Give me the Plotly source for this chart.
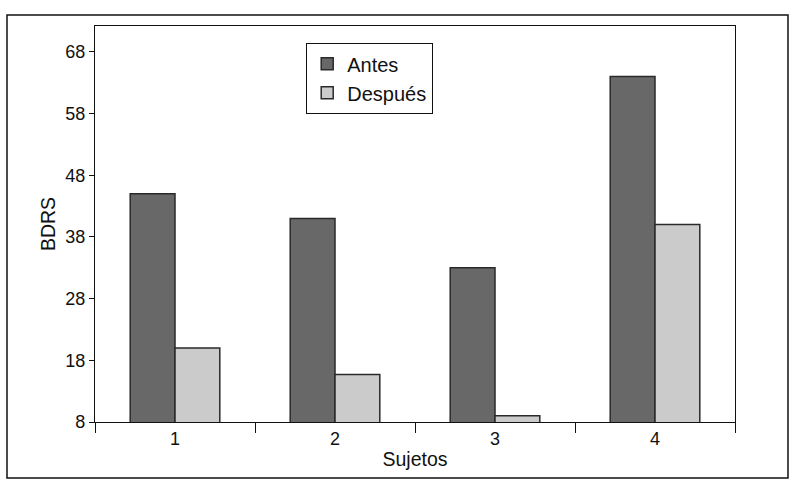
import plotly.graph_objects as go

categories = ["1", "2", "3", "4"]
antes = [45, 41, 33, 64]
despues = [20, 15.7, 9, 40]
y_ticks = [8, 18, 28, 38, 48, 58, 68]

FONT = "Liberation Sans, Arial, Helvetica, sans-serif"
fig = go.Figure()
fig.add_trace(go.Bar(x=categories, y=antes, name="Antes",
                     marker=dict(color="#686868", line=dict(color="#2a2a2a", width=1.5))))
fig.add_trace(go.Bar(x=categories, y=despues, name="Después",
                     marker=dict(color="#cbcbcb", line=dict(color="#2a2a2a", width=1.5))))

fig.update_layout(
    width=795, height=485,
    margin=dict(l=95, r=60, t=26, b=63),
    paper_bgcolor="white", plot_bgcolor="white",
    barmode="group", bargap=0.44, bargroupgap=0,
    font=dict(family=FONT, size=18, color="#111111"),
    legend=dict(x=0.3297, y=0.957, xanchor="left", yanchor="top",
                bordercolor="#111111", borderwidth=1.2, bgcolor="white",
                font=dict(size=20), tracegroupgap=0),
    showlegend=True,
)
fig.update_xaxes(
    type="category", range=[-0.5, 3.5], tickson="boundaries",
    ticks="outside", ticklen=10, tickcolor="#111111", tickwidth=1.2,
    showline=True, linecolor="#111111", linewidth=1.2, mirror=True,
    showgrid=False, zeroline=False,
    title=dict(text="Sujetos", font=dict(size=19.5), standoff=4),
    tickfont=dict(size=18),
)
fig.update_yaxes(
    range=[8, 72.2], tickvals=y_ticks, ticktext=[str(v) for v in y_ticks],
    ticks="outside", ticklen=5, tickcolor="#111111", tickwidth=1.2,
    showline=True, linecolor="#111111", linewidth=1.2, mirror=True,
    showgrid=False, zeroline=False,
    title=dict(text="BDRS", font=dict(size=19.5), standoff=4),
    tickfont=dict(size=18),
)
fig.add_shape(type="rect", xref="paper", yref="paper",
              x0=-0.1375, x1=1.0828, y0=-0.1414, y1=1.0278,
              line=dict(color="#111111", width=1.5), fillcolor="rgba(0,0,0,0)")
fig.write_html("out.html", config={"displayModeBar": False},
               post_script="document.body.style.margin='0';document.body.style.padding='0';")
